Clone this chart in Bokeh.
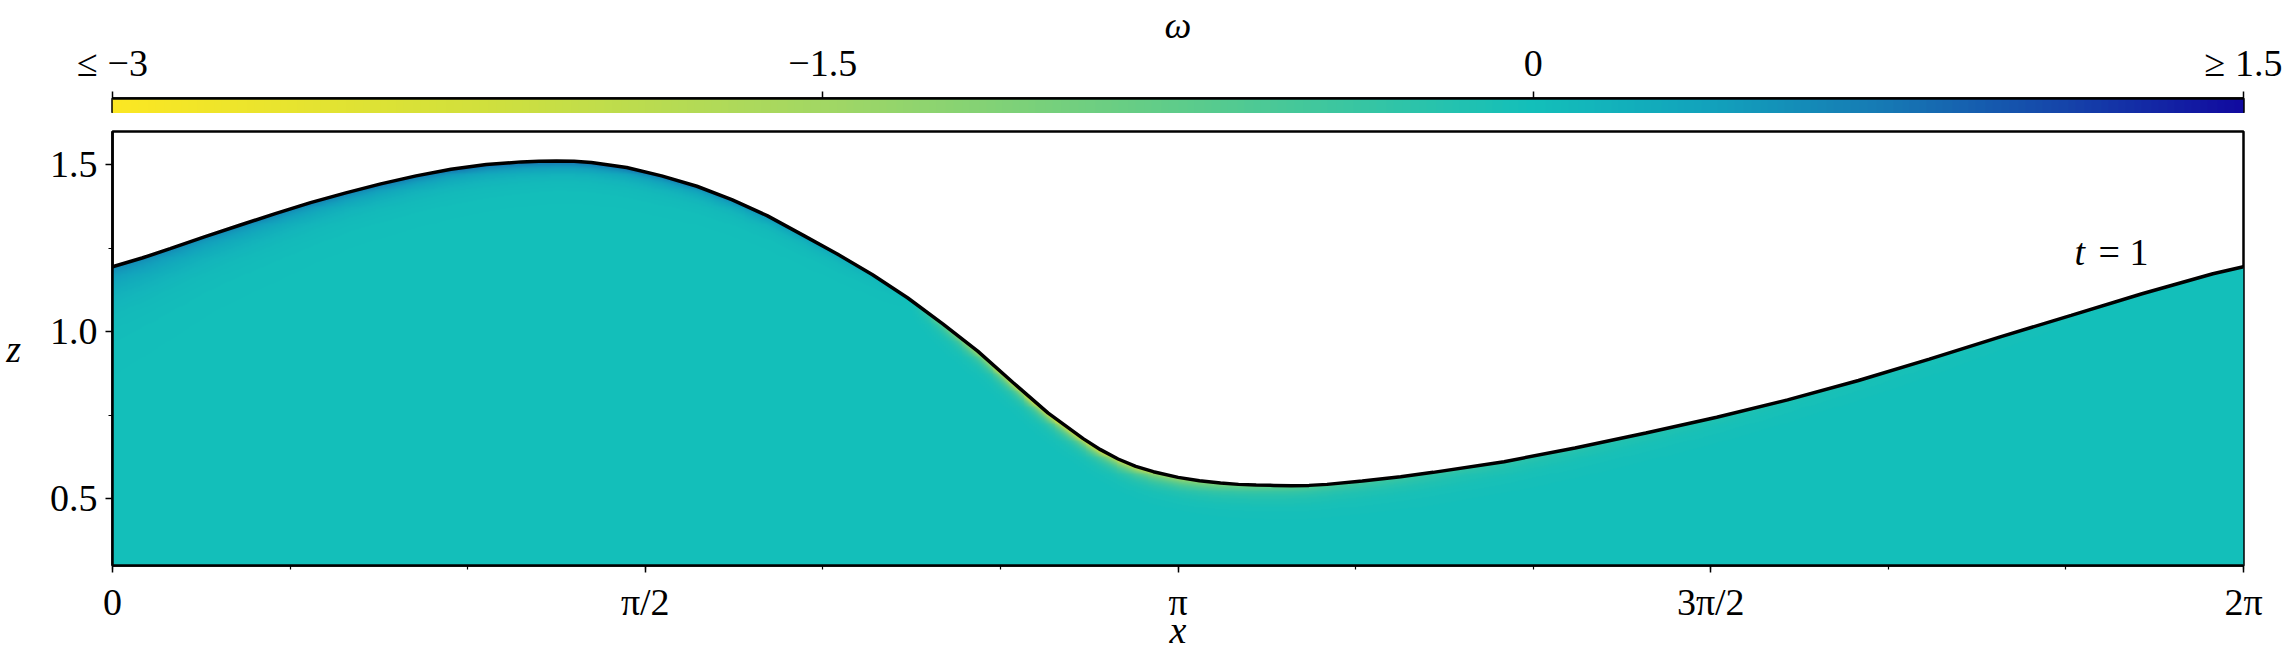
import numpy as np
from bokeh.plotting import figure
from bokeh.models import Range1d, LinearColorMapper, FixedTicker
from bokeh.layouts import column
from bokeh.embed import file_html
from bokeh.resources import INLINE
from bokeh.core.properties import value

PI = np.pi

# ---- free-surface elevation z = eta(x) ----
surface_x = [0.000, 0.087, 0.170, 0.273, 0.377, 0.480, 0.584, 0.688, 0.791, 0.895,
             0.998, 1.102, 1.205, 1.257, 1.309, 1.361, 1.412, 1.516, 1.619, 1.723,
             1.826, 1.930, 2.033, 2.137, 2.241, 2.344, 2.448, 2.551, 2.655, 2.758,
             2.862, 2.913, 2.965, 3.017, 3.069, 3.142, 3.205, 3.267, 3.320, 3.372,
             3.424, 3.476, 3.528, 3.581, 3.685, 3.798, 3.894, 4.103, 4.312, 4.521,
             4.730, 4.939, 5.148, 5.357, 5.566, 5.775, 5.984, 6.193, 6.283]
surface_z = [1.195, 1.221, 1.249, 1.285, 1.320, 1.354, 1.387, 1.416, 1.443, 1.467,
             1.487, 1.501, 1.509, 1.511, 1.512, 1.511, 1.507, 1.492, 1.467, 1.436,
             1.396, 1.348, 1.291, 1.233, 1.171, 1.102, 1.024, 0.942, 0.848, 0.757,
             0.680, 0.647, 0.619, 0.597, 0.581, 0.564, 0.554, 0.547, 0.543, 0.541,
             0.540, 0.539, 0.540, 0.543, 0.553, 0.566, 0.579, 0.611, 0.652, 0.697,
             0.744, 0.796, 0.854, 0.918, 0.985, 1.049, 1.114, 1.174, 1.195]

# ---- vorticity on the surface and thickness of the boundary layer (estimated) ----
omega_x = [0.0, 0.3, 0.7, 1.0, 1.3, 1.6, 1.9, 2.15, 2.35, 2.5, 2.7, 2.9, 3.1, 3.3, 3.6, 4.0, 4.5, 5.0, 5.5, 6.0, 6.283]
omega_surface = [0.6, 0.6, 0.7, 0.8, 0.9, 0.8, 0.6, 0.3, 0.0, -1.5, -2.8, -2.8, -1.9, -1.1, -0.6, -0.35, -0.2, -0.1, -0.05, 0.0, 0.0]
omega_depth = [0.07, 0.05, 0.035, 0.03, 0.025, 0.025, 0.022, 0.02, 0.018, 0.018, 0.017, 0.017, 0.019, 0.022, 0.025, 0.028, 0.03, 0.03, 0.03, 0.03, 0.03]

# ---- colour scale ----
omega_low, omega_high = -3.0, 1.5
cmap_pos = [0.0, 0.167, 0.333, 0.5, 0.667, 0.75, 0.833, 0.917, 1.0]
cmap_col = ["#fbe723", "#d2e03c", "#a2d764", "#5ecc8a", "#13bfba", "#12a2bc", "#1679b4", "#1545aa", "#110ba0"]
cbar_ticks = [-3.0, -1.5, 0.0, 1.5]
cbar_labels = ["≤ −3", "−1.5", "0", "≥ 1.5"]

# ---- axes ----
x_ticks = [0.0, PI / 2, PI, 3 * PI / 2, 2 * PI]
x_tick_labels = ["0", "π/2", "π", "3π/2", "2π"]
x_minor = [k * PI / 6 for k in range(13)]
z_ticks = [0.5, 1.0, 1.5]
z_tick_labels = ["0.5", "1.0", "1.5"]
z_minor = [0.75, 1.25]
time_label = "t"
time_value = "= 1"

# build palette
def hex2rgb(h):
    return np.array([int(h[i:i + 2], 16) for i in (1, 3, 5)], dtype=float)

rgb = np.array([hex2rgb(c) for c in cmap_col])
palette = []
for tt in np.linspace(0, 1, 256):
    r = np.interp(tt, cmap_pos, rgb[:, 0])
    g = np.interp(tt, cmap_pos, rgb[:, 1])
    b = np.interp(tt, cmap_pos, rgb[:, 2])
    palette.append("#%02x%02x%02x" % (int(round(r)), int(round(g)), int(round(b))))

mapper = LinearColorMapper(palette=palette, low=omega_low, high=omega_high,
                           nan_color=(0, 0, 0, 0))

FONT = "Liberation Serif"
FS = "38px"

# ---- vorticity field below the surface ----
x0, x1, z0, z1 = 0.0, 2 * PI, 0.3, 1.6
nx, nz = 1100, 460
xc = x0 + (np.arange(nx) + 0.5) * (x1 - x0) / nx
zc = z0 + (np.arange(nz) + 0.5) * (z1 - z0) / nz
eta = np.interp(xc, surface_x, surface_z)
ws = np.interp(xc, omega_x, omega_surface)
dep = np.interp(xc, omega_x, omega_depth)
d = eta[None, :] - zc[:, None]
field = ws[None, :] * np.exp(-np.clip(d, 0, None) / dep[None, :])
field[d < 0] = np.nan
field = field.astype(np.float32)

W = 2288
p = figure(width=W, height=540, x_range=Range1d(x0, x1), y_range=Range1d(z0, z1),
           output_backend="svg", toolbar_location=None,
           min_border_left=112, min_border_right=45, min_border_top=18, min_border_bottom=0)
p.grid.visible = False
p.outline_line_color = "black"
p.outline_line_width = 2.5
p.outline_line_alpha = 1.0
p.background_fill_color = "white"
p.border_fill_color = "white"

p.image(image=[field], x=x0, y=z0, dw=x1 - x0, dh=z1 - z0, color_mapper=mapper)
p.line(surface_x, surface_z, line_color="black", line_width=3.5)

p.text(x=[5.785], y=[1.24], text=[time_label], text_font=value(FONT), text_font_size=FS,
       text_font_style="italic", text_align="left", text_baseline="middle", text_color="black")
p.text(x=[5.785], y=[1.24], text=[time_value], text_font=value(FONT), text_font_size=FS,
       text_align="left", text_baseline="middle", text_color="black", x_offset=24)

for ax in (p.xaxis[0], p.yaxis[0]):
    ax.axis_line_width = 2.5
    ax.axis_line_color = "black"
    ax.major_tick_out = 7
    ax.major_tick_in = 0
    ax.minor_tick_out = 4
    ax.minor_tick_in = 0
    ax.major_tick_line_width = 1.5
    ax.minor_tick_line_width = 1.2
    ax.major_label_text_font = FONT
    ax.major_label_text_font_size = FS
    ax.major_label_text_color = "black"
    ax.axis_label_text_font = FONT
    ax.axis_label_text_font_size = FS
    ax.axis_label_text_font_style = "italic"
    ax.axis_label_text_color = "black"

p.xaxis.ticker = FixedTicker(ticks=x_ticks, minor_ticks=x_minor)
p.xaxis.major_label_overrides = dict(zip(x_ticks, x_tick_labels))
p.xaxis.axis_label = "x"
p.xaxis.major_label_standoff = 8
p.xaxis.axis_label_standoff = -17

p.yaxis.ticker = FixedTicker(ticks=z_ticks, minor_ticks=z_minor)
p.yaxis.major_label_overrides = dict(zip(z_ticks, z_tick_labels))
p.yaxis.axis_label = "z"
p.yaxis.axis_label_orientation = "horizontal"
p.yaxis.major_label_standoff = 8
p.yaxis.axis_label_standoff = 26

# ---- colour bar as its own figure ----
grad = np.linspace(omega_low, omega_high, 900).reshape(1, -1).astype(np.float32)
cb = figure(width=W, height=113, x_range=Range1d(omega_low, omega_high), y_range=Range1d(0, 1),
            x_axis_location="above", y_axis_location=None,
            output_backend="svg", toolbar_location=None,
            min_border_left=112, min_border_right=45, min_border_top=0, min_border_bottom=0)
cb.grid.visible = False
cb.outline_line_color = "black"
cb.outline_line_width = 2.5
cb.outline_line_alpha = 1.0
cb.image(image=[grad], x=omega_low, y=0, dw=omega_high - omega_low, dh=1, color_mapper=mapper)
ax = cb.xaxis[0]
ax.ticker = FixedTicker(ticks=cbar_ticks, minor_ticks=[])
ax.major_label_overrides = dict(zip(cbar_ticks, cbar_labels))
ax.axis_label = "ω"
ax.axis_line_width = 2.5
ax.major_tick_out = 7
ax.major_tick_in = 0
ax.major_tick_line_width = 1.5
ax.major_label_standoff = 8
ax.axis_label_standoff = -7
ax.major_label_text_font = FONT
ax.major_label_text_font_size = FS
ax.major_label_text_color = "black"
ax.axis_label_text_font = FONT
ax.axis_label_text_font_size = FS
ax.axis_label_text_font_style = "italic"
ax.axis_label_text_color = "black"

layout = column(cb, p)
open("out.html", "w").write(file_html(layout, INLINE, "vorticity"))
